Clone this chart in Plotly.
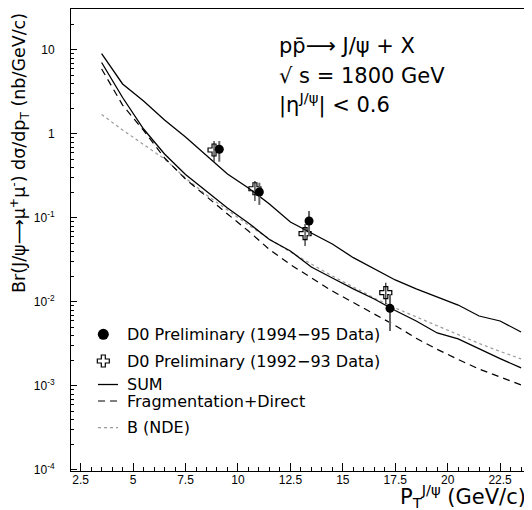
import plotly.graph_objects as go

# ---------------- data ----------------
pt_theory = [3.5, 4.5, 5.5, 6.5, 7.5, 8.5, 9.5, 10.5, 11.5, 12.5, 13.5,
             14.5, 15.5, 16.5, 17.5, 18.5, 19.5, 20.5, 21.5, 22.5, 23.5]
sum_upper = [9.04, 3.94, 2.47, 1.47, 0.921, 0.547, 0.334, 0.228, 0.147, 0.0896, 0.0663,
             0.0490, 0.0337, 0.0247, 0.0183, 0.0143, 0.0115, 0.0092, 0.00681, 0.00594, 0.00439]
sum_lower = [7.10, 2.72, 1.147, 0.578, 0.330, 0.207, 0.1315, 0.0872, 0.0555, 0.0405, 0.0261,
             0.0193, 0.0143, 0.01086, 0.00792, 0.00594, 0.00428, 0.00363, 0.00276, 0.00212, 0.00164]
frag_direct = [5.94, 2.21, 1.101, 0.518, 0.291, 0.178, 0.1116, 0.0700, 0.0422, 0.0279, 0.0193,
               0.0135, 0.00986, 0.00720, 0.00525, 0.00370, 0.00273, 0.00207, 0.00159, 0.00128, 0.00103]
b_nde = [1.707, 1.116, 0.750, 0.504, 0.299, 0.188, 0.1245, 0.0825, 0.0562, 0.0394, 0.0283,
         0.0204, 0.0151, 0.01116, 0.00848, 0.00663, 0.00518, 0.00410, 0.00321, 0.00258, 0.00210]

pt_9495 = [9.11, 11.02, 13.39, 17.25]
xs_9495 = [0.658, 0.204, 0.092, 0.0084]
hi_9495 = [0.826, 0.263, 0.121, 0.01245]
lo_9495 = [0.468, 0.143, 0.061, 0.00452]

pt_9293 = [8.86, 10.81, 13.20, 17.05]
xs_9293 = [0.645, 0.223, 0.065, 0.0129]
hi_9293 = [0.826, 0.275, 0.085, 0.0170]
lo_9293 = [0.468, 0.159, 0.0464, 0.0094]

x_tickvals = [2.5, 5, 7.5, 10, 12.5, 15, 17.5, 20, 22.5]
x_ticktext = ["2.5", "5", "7.5", "10", "12.5", "15", "17.5", "20", "22.5"]
y_tickvals = [1e-4, 1e-3, 1e-2, 1e-1, 1, 10]
y_ticktext = ["10<sup>-4</sup>", "10<sup>-3</sup>", "10<sup>-2</sup>", "10<sup>-1</sup>", "1", "10"]

legend_labels = ["D0 Preliminary (1994\u221295 Data)", "D0 Preliminary (1992\u221293 Data)",
                 "SUM", "Fragmentation+Direct", "B (NDE)"]
info_lines = ["pp\u0304\u27f6 J/\u03c8 + X", "\u221a s = 1800 GeV", "|\u03b7<sup>J/\u03c8</sup>| < 0.6"]

FONT = "DejaVu Sans, sans-serif"
TICKFONT = "Liberation Sans, Arial, sans-serif"
PAD = "\u00a0\u00a0\u00a0"  # keeps y tick labels clear of the axis

fig = go.Figure()

# theory curves
fig.add_trace(go.Scatter(x=pt_theory, y=b_nde, mode="lines",
                         line=dict(color="#9a9a9a", width=1.2, dash="dot"), showlegend=False))
fig.add_trace(go.Scatter(x=pt_theory, y=frag_direct, mode="lines",
                         line=dict(color="black", width=1.2, dash="7px,5px"), showlegend=False))
fig.add_trace(go.Scatter(x=pt_theory, y=sum_lower, mode="lines",
                         line=dict(color="black", width=1.3), showlegend=False))
fig.add_trace(go.Scatter(x=pt_theory, y=sum_upper, mode="lines",
                         line=dict(color="black", width=1.3), showlegend=False))

# data points
fig.add_trace(go.Scatter(
    x=pt_9293, y=xs_9293, mode="markers",
    marker=dict(symbol="cross-open", size=10, color="black", line=dict(width=1.2, color="black")),
    error_y=dict(type="data", symmetric=False,
                 array=[h - v for h, v in zip(hi_9293, xs_9293)],
                 arrayminus=[v - l for v, l in zip(xs_9293, lo_9293)],
                 width=0, thickness=1.2, color="#222"),
    showlegend=False))
fig.add_trace(go.Scatter(
    x=pt_9495, y=xs_9495, mode="markers",
    marker=dict(symbol="circle", size=9, color="black"),
    error_y=dict(type="data", symmetric=False,
                 array=[h - v for h, v in zip(hi_9495, xs_9495)],
                 arrayminus=[v - l for v, l in zip(xs_9495, lo_9495)],
                 width=0, thickness=2, color="#666"),
    showlegend=False))

# legend samples on an overlay axis (0..1 over the plot area)
leg_x_mark = 0.0707
leg_x_line = [0.0591, 0.1028]
leg_y = [0.2959, 0.2381, 0.1872, 0.1515, 0.0937]
fig.add_trace(go.Scatter(x=[leg_x_mark], y=[leg_y[0]], mode="markers", xaxis="x2", yaxis="y2",
                         marker=dict(symbol="circle", size=11, color="black"), showlegend=False))
fig.add_trace(go.Scatter(x=[leg_x_mark], y=[leg_y[1]], mode="markers", xaxis="x2", yaxis="y2",
                         marker=dict(symbol="cross-open", size=10, color="black",
                                     line=dict(width=1.2, color="black")), showlegend=False))
fig.add_trace(go.Scatter(x=leg_x_line, y=[leg_y[2]] * 2, mode="lines", xaxis="x2", yaxis="y2",
                         line=dict(color="black", width=1.3), showlegend=False))
fig.add_trace(go.Scatter(x=leg_x_line, y=[leg_y[3]] * 2, mode="lines", xaxis="x2", yaxis="y2",
                         line=dict(color="black", width=1.2, dash="7px,5px"), showlegend=False))
fig.add_trace(go.Scatter(x=leg_x_line, y=[leg_y[4]] * 2, mode="lines", xaxis="x2", yaxis="y2",
                         line=dict(color="#9a9a9a", width=1.2, dash="dot"), showlegend=False))

annotations = []
for lab, yy in zip(legend_labels, leg_y):
    annotations.append(dict(xref="x2", yref="y2", x=0.1182, y=yy, text=lab, showarrow=False,
                            xanchor="left", yanchor="middle",
                            font=dict(family=FONT, size=16, color="black")))
for line, yy in zip(info_lines, [0.9199, 0.855, 0.7944]):
    annotations.append(dict(xref="paper", yref="paper", x=0.4508, y=yy, text=line, showarrow=False,
                            xanchor="left", yanchor="middle",
                            font=dict(family=FONT, size=21, color="black")))
annotations.append(dict(xref="paper", yref="paper", x=0.7155, y=-0.054,
                        text="P<sub>T</sub><sup>J/\u03c8</sup> (GeV/c)", showarrow=False,
                        xanchor="left", yanchor="middle",
                        font=dict(family=FONT, size=21, color="black")))
annotations.append(dict(xref="paper", yref="paper", x=-0.1116, y=0.9957,
                        text="Br(J/\u03c8\u27f6\u03bc<sup>+</sup>\u03bc<sup>-</sup>) d\u03c3/dp<sub>T</sub> (nb/GeV/c)",
                        textangle=-90, showarrow=False, xanchor="center", yanchor="top",
                        font=dict(family=FONT, size=17.5, color="black")))

minor_y = [m * 10 ** e for e in range(-4, 2) for m in range(2, 10)]

# the page body adds an 8 px offset, so the figure is 8 px smaller on each side
fig.update_layout(
    template="none",
    width=524, height=502,
    margin=dict(l=63, r=4, t=1, b=39, pad=0, autoexpand=False),
    paper_bgcolor="white", plot_bgcolor="white",
    font=dict(family=FONT, color="black"),
    showlegend=False,
    annotations=annotations,
    xaxis=dict(range=[2.04, 23.83], tickvals=x_tickvals, ticktext=x_ticktext, automargin=False,
               ticks="inside", ticklen=8, tickwidth=1, tickcolor="black",
               minor=dict(dtick=0.5, tick0=0, ticks="inside", ticklen=4, tickcolor="black", showgrid=False),
               showline=True, linecolor="black", linewidth=1, mirror=True,
               showgrid=False, zeroline=False, ticklabelstandoff=-2,
               tickfont=dict(family=TICKFONT, size=12, color="black")),
    yaxis=dict(type="log", range=[-4.012, 1.488], tickvals=y_tickvals,
               ticktext=[t + PAD for t in y_ticktext],
               automargin=False,
               ticks="inside", ticklen=6, tickwidth=1, tickcolor="black",
               minor=dict(tickvals=minor_y, ticks="inside", ticklen=3, tickcolor="black", showgrid=False),
               showline=True, linecolor="black", linewidth=1, mirror=True,
               showgrid=False, zeroline=False, ticklabelstandoff=3,
               tickfont=dict(family=TICKFONT, size=12, color="black")),
    xaxis2=dict(overlaying="x", range=[0, 1], visible=False),
    yaxis2=dict(overlaying="y", range=[0, 1], visible=False),
)

fig.write_html("out.html")
